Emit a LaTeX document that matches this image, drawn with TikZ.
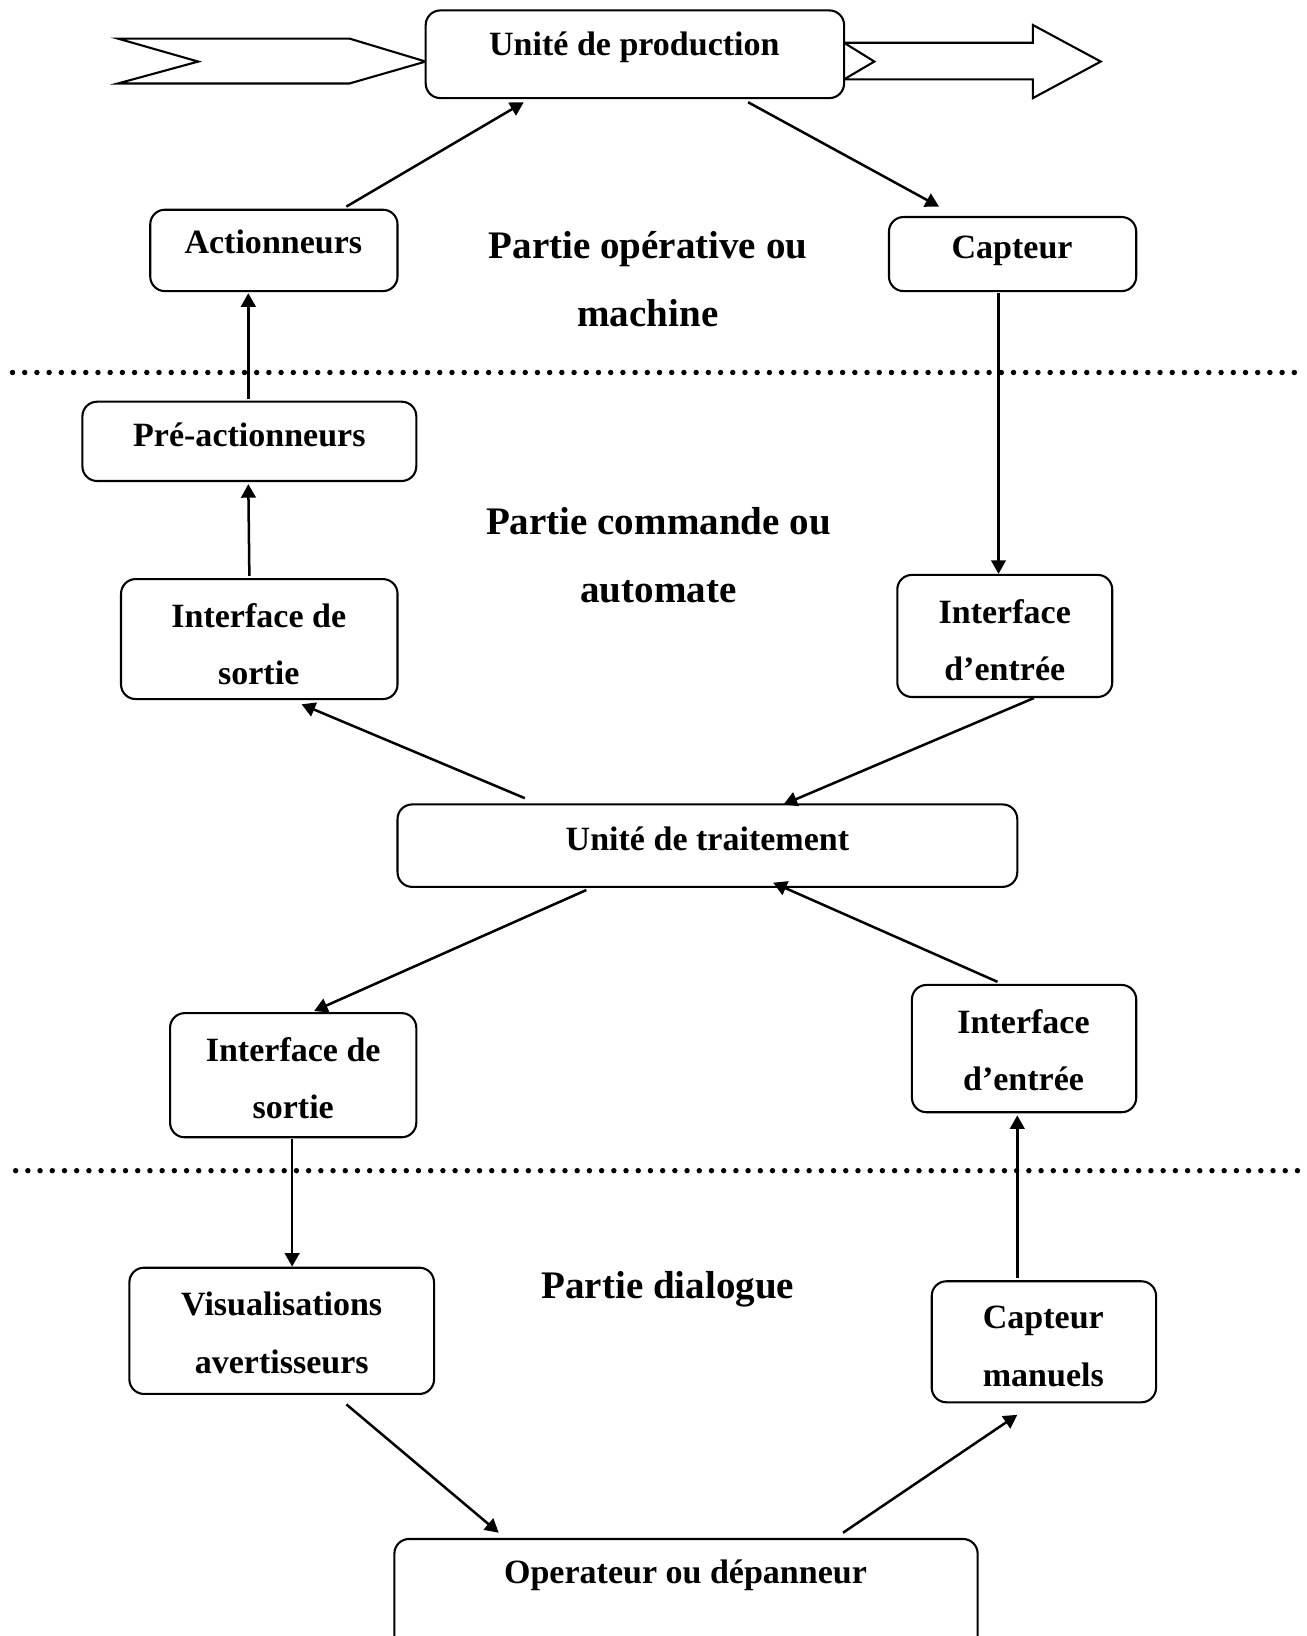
\documentclass[tikz,border=0pt]{standalone}
\usepackage{fontspec}
\setmainfont{Liberation Serif}
\usetikzlibrary{arrows.meta,calc,fit}
\tikzset{
  box/.style={draw, rounded corners=7pt, line width=1pt, inner sep=0pt},
  txt/.style={font=\fontsize{16.3}{27.5}\selectfont\bfseries, align=center, inner sep=0pt},
  head/.style={font=\fontsize{18.7}{32.5}\selectfont\bfseries, align=center, inner sep=0pt},
  arr/.style={line width=1.2pt, -{Triangle[length=6.5pt,width=7pt]}},
  sep/.style={line width=2.6pt, line cap=round, dash pattern=on 0pt off 5.85pt},
  bigarrow/.style={line width=1pt, line join=miter}
}
\begin{document}
\begin{tikzpicture}[x=0.5pt,y=-0.5pt]
\clip (0,0) rectangle (1252,1568);
\fill[white] (0,0) rectangle (1252,1568);

% big flow arrows
\draw[bigarrow] (113,37) -- (335,37) -- (408,59) -- (335,80) -- (113,80) -- (190,59) -- cycle;
\draw[bigarrow, fill=white] (809,41) -- (990,41) -- (990,24) -- (1055,59) -- (990,94) -- (990,76) -- (809,76) -- (838,59) -- cycle;

% boxes
\node[box, fill=white, fit={(408,10)(809,94)}] (prod) {};
\node[box, fit={(144,201)(381,279)}] (act) {};
\node[box, fit={(852,208)(1089,279)}] (capt) {};
\node[box, fit={(79,385)(399,461)}] (pre) {};
\node[box, fit={(116,555)(381,670)}] (is1) {};
\node[box, fit={(860,551)(1066,668)}] (ie1) {};
\node[box, fit={(381,771)(975,850)}] (ut) {};
\node[box, fit={(163,971)(399,1090)}] (is2) {};
\node[box, fit={(874,944)(1089,1066)}] (ie2) {};
\node[box, fit={(124,1215)(416,1336)}] (vis) {};
\node[box, fit={(893,1228)(1108,1344)}] (cm) {};
\node[box, fit={(378,1475)(937,1600)}] (op) {};

% texts
\node[txt] (prodt) at (608,45) {Unité de production};
\node[txt] (actt) at (262,232) {Actionneurs};
\node[txt] (captt) at (970,240) {Capteur};
\node[txt] (pret) at (239,417) {Pré-actionneurs};
\node[txt] (is1t) at (248,617.5) {Interface de\\sortie};
\node[txt] (ie1t) at (963,613.5) {Interface\\d’entrée};
\node[txt] (utt) at (678,804) {Unité de traitement};
\node[txt] (is2t) at (281,1033.5) {Interface de\\sortie};
\node[txt] (ie2t) at (981,1006.5) {Interface\\d’entrée};
\node[txt] (vist) at (270,1277.5) {Visualisations\\avertisseurs};
\node[txt] (cmt) at (1000,1290.5) {Capteur\\manuels};
\node[txt] (opt) at (657,1510) {Operateur ou dépanneur};

\node[head] (h1) at (621,267.5) {Partie opérative ou\\machine};
\node[head] (h2) at (631,532.5) {Partie commande ou\\automate};
\node[head] (h3) at (640,1236) {Partie dialogue};

% separators
\coordinate (s1a) at (12,357);
\coordinate (s1b) at (1242,357);
\coordinate (s2a) at (15,1122);
\coordinate (s2b) at (1247,1122);
\draw[sep] (s1a) -- (s1b);
\draw[sep] (s2a) -- (s2b);

% connectors
\draw[arr] ($(act.north west)+(189,-2)$) -- ($(prod.south west)+(95,3)$);
\draw[arr] ($(prod.south west)+(310,3)$) -- ($(capt.north west)+(49,-9)$);
\draw[arr] ($(pre.north west)+(160,-2)$) -- ($(act.south west)+(95,1)$);
\draw[arr] ($(capt.south west)+(106,1)$) -- ($(ie1.north west)+(98,0)$);
\draw[arr] ($(is1.north west)+(124,-2)$) -- ($(pre.south west)+(160,2)$);
\draw[arr] ($(ut.north west)+(123,-5)$) -- ($(is1.south west)+(174,4)$);
\draw[arr] ($(ie1.south west)+(132,0)$) -- ($(ut.north west)+(371,1)$);
\draw[arr] ($(ut.south west)+(182,2)$) -- ($(is2.north west)+(139,-1)$);
\draw[arr] ($(ie2.north west)+(83,-2)$) -- ($(ut.south west)+(361,-5)$);
\draw[arr] ($(is2.south west)+(118,1)$) -- ($(vis.north west)+(157,0)$);
\draw[arr] ($(cm.north west)+(83,-2)$) -- ($(ie2.south west)+(102,2)$);
\draw[arr] ($(vis.south west)+(209,9)$) -- ($(op.north west)+(101,-5)$);
\draw[arr] ($(op.north west)+(431,-5)$) -- ($(cm.south west)+(83,11)$);
\end{tikzpicture}
\end{document}
